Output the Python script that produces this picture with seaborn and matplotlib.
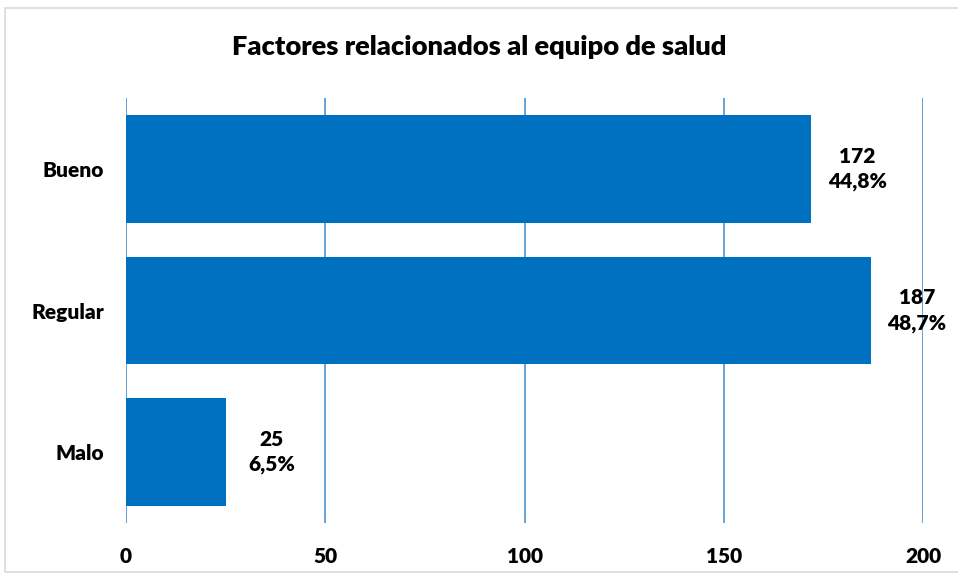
import matplotlib
matplotlib.use("Agg")
import matplotlib.pyplot as plt
import seaborn as sns
import pandas as pd
from matplotlib.patches import Rectangle

# data
categorias = ["Bueno", "Regular", "Malo"]
valores = [172, 187, 25]
porcentajes = ["44,8%", "48,7%", "6,5%"]
ticks_x = [0, 50, 100, 150, 200]

df = pd.DataFrame({"cat": categorias, "n": valores})

sns.set_style("white")
plt.rcParams["font.family"] = ["Lato", "DejaVu Sans"]
plt.rcParams["text.color"] = "black"
plt.rcParams["xtick.color"] = "black"
plt.rcParams["ytick.color"] = "black"
PESO = "heavy"

fig = plt.figure(figsize=(9.58, 5.78), dpi=100)
ax = fig.add_axes([0.1315, 0.0952, 0.832, 0.7352])

sns.barplot(data=df, x="n", y="cat", orient="h", color="#0070C0",
            saturation=1, width=0.76, linewidth=0, ax=ax)

ax.set_xlim(0, 200)
ax.set_xticks(ticks_x)
ax.set_xlabel("")
ax.set_ylabel("")
ax.grid(axis="x", color="#5B9BD5", linewidth=1.3)
ax.set_axisbelow(True)
for s in ax.spines.values():
    s.set_visible(False)
ax.axvline(0, color="#D9D9D9", linewidth=1.3, zorder=0.5)
ax.tick_params(axis="both", length=0, labelsize=15, labelcolor="black")
ax.tick_params(axis="x", pad=17)
ax.tick_params(axis="y", pad=16)
for lab in ax.get_xticklabels() + ax.get_yticklabels():
    lab.set_fontweight(PESO)

for i, (v, p) in enumerate(zip(valores, porcentajes)):
    ax.text(v + 11.5, i, f"{v}\n{p}", ha="center", va="center",
            fontsize=15, fontweight=PESO, linespacing=1.35, color="black")

fig.suptitle("Factores relacionados al equipo de salud", y=0.94,
             fontsize=19.6, fontweight=PESO, color="black")

# light outer frame like the original chart area
fig.patches.append(Rectangle((5 / 958, 6 / 578), 1.2, 1 - 14 / 578,
                             transform=fig.transFigure, fill=False,
                             edgecolor="#D9D9D9", linewidth=1.2))

fig.savefig("out.png", dpi=100)
